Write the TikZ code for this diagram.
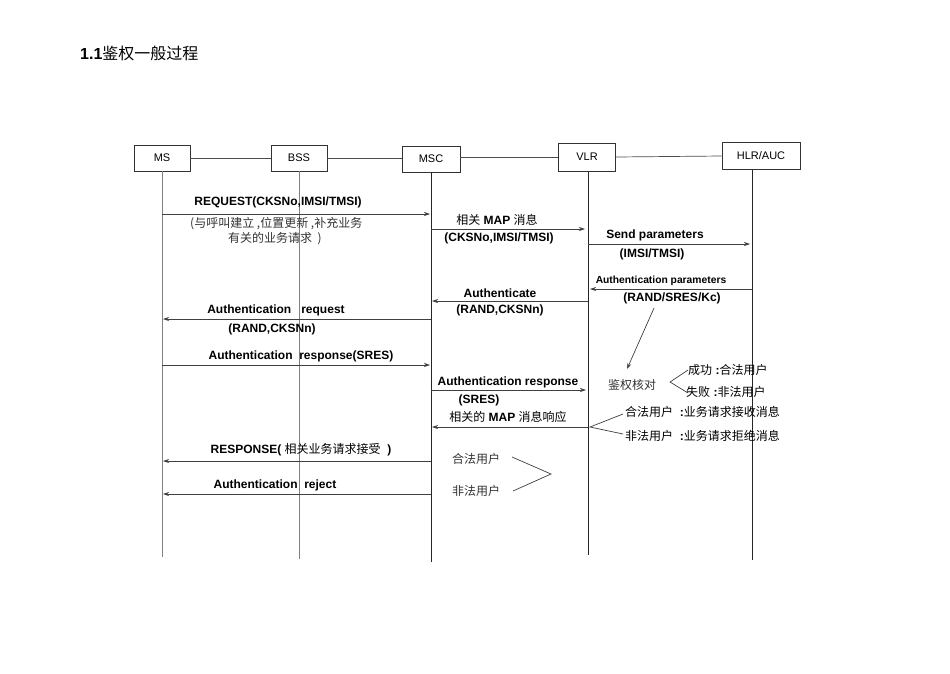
\documentclass[tikz,border=0pt]{standalone}
\usepackage{fontspec}
\setmainfont{Liberation Sans}
\newfontfamily\cjk{Noto Sans CJK SC}
\usetikzlibrary{arrows.meta}
\begin{document}
\begin{tikzpicture}[x=1pt,y=-1pt,
  box/.style={draw=black!80, line width=0.7pt, minimum width=56pt, minimum height=26pt, inner sep=0pt, font=\fontsize{11}{13}\selectfont},
  lifegray/.style={draw=black!50, line width=0.8pt},
  lifeblack/.style={draw=black!85, line width=0.7pt},
  link/.style={draw=black!70, line width=0.7pt},
  msg/.style={draw=black!75, line width=0.7pt, -{Stealth[length=6pt,width=4pt]}},
  lbl/.style={inner sep=0pt, font=\fontsize{12}{14}\selectfont\bfseries},
  smlbl/.style={inner sep=0pt, font=\fontsize{10.3}{12}\selectfont\bfseries},
  zh/.style={inner sep=0pt, text=black!80, font=\fontsize{12}{14}\selectfont\cjk},
  mix/.style={inner sep=0pt, font=\fontsize{12}{14}\selectfont},
  branch/.style={draw=black!75, line width=0.7pt}]
\useasboundingbox[fill=white] (0,0) rectangle (950,673);

% title
\node[anchor=west, inner sep=0pt, font=\fontsize{16}{18}\selectfont] (title) at (80,53) {\textbf{1.1}{\cjk 鉴权一般过程}};

% entity boxes
\node[box] (ms) at (162,158) {MS};
\node[box] (bss) at (299,158) {BSS};
\node[box, minimum width=58pt] (msc) at (431,159) {MSC};
\node[box, minimum width=57pt, minimum height=28pt] (vlr) at (587,157) {VLR};
\node[box, minimum width=78pt, minimum height=27pt] (hlr) at (761,156) {HLR/AUC};

\draw[link] (ms.east) -- (bss.west);
\draw[link] (bss.east) -- (bss.east -| msc.west);
\draw[link] (msc.east |- vlr.west) -- (vlr.west);
\draw[link] (vlr.east) -- (hlr.west);

% lifelines
\coordinate (msB) at (162,557);
\coordinate (bssB) at (299,559);
\coordinate (mscB) at (431,562);
\coordinate (vlrB) at (588,555);
\coordinate (hlrB) at (752,560);
\draw[lifegray] (ms.south) -- (msB);
\draw[lifegray] (bss.south) -- (bssB);
\draw[lifeblack] (msc.south) -- (mscB);
\draw[lifeblack] (vlrB |- vlr.south) -- (vlrB);
\draw[lifeblack] (hlrB |- hlr.south) -- (hlrB);

% 1 REQUEST
\draw[msg] (msB |- 0,214) -- (430,214);
\node[lbl] (l1) at (278,202) {REQUEST(CKSNo,IMSI/TMSI)};
\node[zh, anchor=west] (l1a) at (190,224) {(与呼叫建立 ,位置更新 ,补充业务};
\node[zh, anchor=west] (l1b) at (228,239) {有关的业务请求\ \ )};

% 2 MSC -> VLR
\draw[msg] (mscB |- 0,229) -- (585,229);
\node[mix] (l2) at (497,220) {{\cjk 相关} \textbf{MAP} {\cjk 消息}};
\node[lbl] (l2b) at (499,238) {(CKSNo,IMSI/TMSI)};

% 3 Send parameters
\draw[msg] (vlrB |- 0,244) -- (750,244);
\node[lbl] (l3) at (655,235) {Send parameters};
\node[lbl] (l3b) at (652,254) {(IMSI/TMSI)};

% 4 Authentication parameters
\draw[msg] (hlrB |- 0,289) -- (590,289);
\node[smlbl] (l4) at (661,281) {Authentication parameters};
\node[lbl] (rsk) at (672,298) {(RAND/SRES/Kc)};

% 5 Authenticate
\draw[msg] (vlrB |- 0,301) -- (432,301);
\node[lbl] (l5) at (500,293) {Authenticate};
\node[lbl] (l5b) at (500,310) {(RAND,CKSNn)};

% 6 Authentication request
\draw[msg] (mscB |- 0,319) -- (163,319);
\node[lbl] (l6) at (276,310) {Authentication\ \ \ request};
\node[lbl] (l6b) at (272,329) {(RAND,CKSNn)};

% 7 Authentication response(SRES)
\draw[msg] (msB |- 0,365) -- (430,365);
\node[lbl] (l7) at (301,356) {Authentication\ \ response(SRES)};

% 8 Authentication response MSC -> VLR
\draw[msg] (mscB |- 0,390) -- (586,390);
\node[lbl] (l8) at (508,382) {Authentication response};
\node[lbl] (l8b) at (479,400) {(SRES)};

% check
\coordinate (d1) at (654,308);
\coordinate (d2) at (627,369);
\draw[msg] (d1) -- (d2);
\node[zh] (jq) at (632,385) {鉴权核对};
\coordinate (b0) at (670,382);
\coordinate (b1) at (688,370);
\coordinate (b2) at (688,393);
\draw[branch] (b1) -- (b0) -- (b2);
\node[mix, anchor=west] (ok) at (688,370) {{\cjk 成功} \textbf{:}{\cjk 合法用户}};
\node[mix, anchor=west] (ng) at (686,392) {{\cjk 失败} \textbf{:}{\cjk 非法用户}};

% 9 MAP response
\draw[msg] (vlrB |- 0,427) -- (432,427);
\node[mix] (l9) at (508,417) {{\cjk 相关的} \textbf{MAP} {\cjk 消息响应}};
\coordinate (c0) at (590,427);
\coordinate (c1) at (623,414);
\coordinate (c2) at (623,434);
\draw[branch] (c1) -- (c0) -- (c2);
\node[mix, anchor=west] (r1) at (625,412) {{\cjk 合法用户}\ \ \textbf{:}{\cjk 业务请求接收消息}};
\node[mix, anchor=west] (r2) at (625,436) {{\cjk 非法用户}\ \ \textbf{:}{\cjk 业务请求拒绝消息}};

% 10 RESPONSE
\draw[msg] (mscB |- 0,461) -- (163,461);
\node[mix] (l10) at (301,450) {\textbf{RESPONSE(} {\cjk 相关业务请求接受}\ \ \textbf{)}};

% 11 Authentication reject
\draw[msg] (mscB |- 0,494) -- (163,494);
\node[lbl] (l11) at (275,485) {Authentication\ \ reject};

% legal / illegal
\node[zh] (hf) at (476,459) {合法用户};
\node[zh] (ff) at (476,491) {非法用户};
\coordinate (e1) at (512,457);
\coordinate (e0) at (551,474);
\coordinate (e2) at (513,491);
\draw[branch] (e1) -- (e0) -- (e2);
\end{tikzpicture}
\end{document}
